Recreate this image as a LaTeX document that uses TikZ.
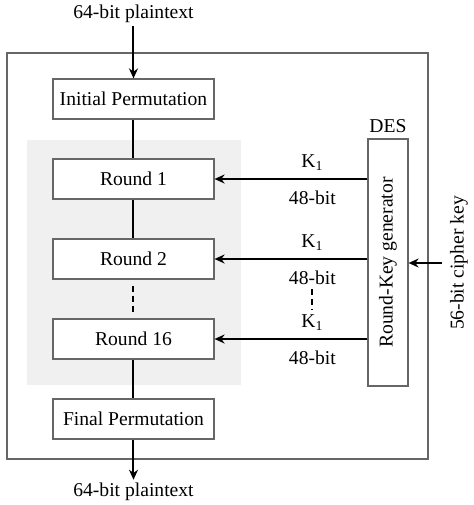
\documentclass[tikz,border=0pt]{standalone}
\usepackage{fontspec}
\setmainfont{Liberation Serif}
\usetikzlibrary{arrows.meta,positioning}

\begin{document}
\begin{tikzpicture}[
    x=0.5pt, y=-0.5pt,
    stage/.style={
        rectangle, draw=black!60, fill=white, line width=0.6pt,
        minimum width=80.5pt, minimum height=20pt,
        inner sep=0pt, font=\fontsize{9.8}{11}\selectfont
    },
    lbl/.style={inner sep=1.5pt, font=\fontsize{9.8}{11}\selectfont},
    flow/.style={-{Stealth[length=5pt,width=4.5pt]}, line width=1pt, color=black},
    link/.style={line width=1pt, color=black},
    dots/.style={dashed, dash pattern=on 3pt off 2pt, line width=1pt},
]
\useasboundingbox (0,0) rectangle (474,505);

% outer DES frame and round area
\draw[black!60, line width=0.6pt] (7,53) rectangle (428,459);
\fill[black!6] (27,140) rectangle (241,385);

\node[stage] (ip)  at (133.5,99)  {Initial Permutation};
\node[stage] (r1)  at (133.5,179) {Round 1};
\node[stage] (r2)  at (133.5,259) {Round 2};
\node[stage] (r16) at (133.5,339) {Round 16};
\node[stage] (fp)  at (133.5,419) {Final Permutation};

\node[lbl] (pin)  at (133.5,14)  {64-bit plaintext};
\node[lbl] (pout) at (133.5,492) {64-bit plaintext};

\node[stage, minimum width=20pt, minimum height=123.5pt] (keygen) at (388,262.5)
    {\rotatebox{90}{Round-Key generator}};
\node[lbl, above=1pt of keygen] (des) {DES};
\node[lbl, inner sep=4pt] (cipher) at (459,263) {\rotatebox{90}{56-bit cipher key}};

\draw[flow] (pin) -- (ip);
\draw[link] (ip) -- (r1);
\draw[link] (r1) -- (r2);
\draw[dots, shorten <=3pt, shorten >=3pt] (r2) -- (r16);
\draw[link] (r16) -- (fp);
\draw[flow] (fp) -- (pout);
\draw[flow] (cipher.west) -- (keygen.east |- cipher.west);

\foreach \r/\n in {r1/1, r2/2, r16/3}
  \draw[flow] (keygen.west |- \r) -- (\r.east)
    node[lbl, pos=0.36, above=2.5pt] (k\n) {K\textsubscript{1}}
    node[lbl, pos=0.36, below=4pt] (b\n) {48-bit};

\draw[dots] (b2.south) -- (k3.north);

\end{tikzpicture}
\end{document}
